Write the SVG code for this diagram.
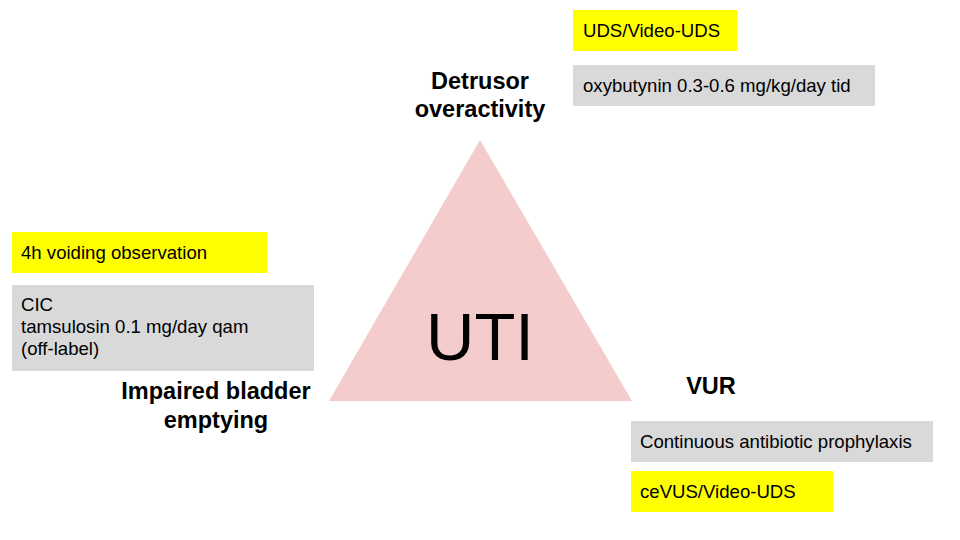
<svg xmlns="http://www.w3.org/2000/svg" width="960" height="540" viewBox="0 0 960 540">
<style>
.y{fill:#ffff00}
.g{fill:#d9d9d9}
.t{font-family:"Liberation Sans",Arial,sans-serif;font-size:18.6px;fill:#000}
.h{font-family:"Liberation Sans",Arial,sans-serif;font-size:23.5px;font-weight:bold;fill:#000;text-anchor:middle}
</style>
<rect width="960" height="540" fill="#fff"/>
<g id="triangle">
<polygon points="480,140 329,401 632,401" fill="#f4cccc"/>
<text x="480" y="360" font-family="Liberation Sans,Arial,sans-serif" font-size="67" text-anchor="middle">UTI</text>
</g>
<g id="detrusor">
<text class="h" x="480" y="89">Detrusor</text>
<text class="h" x="480" y="117">overactivity</text>
</g>
<g id="uds">
<rect class="y" x="573" y="10" width="164" height="41"/>
<text class="t" x="583" y="37">UDS/Video-UDS</text>
</g>
<g id="oxybutynin">
<rect class="g" x="573" y="65" width="302" height="41"/>
<text class="t" x="583" y="92">oxybutynin 0.3-0.6 mg/kg/day tid</text>
</g>
<g id="voiding">
<rect class="y" x="12" y="232" width="255" height="41"/>
<text class="t" x="21" y="259">4h voiding observation</text>
</g>
<g id="cic">
<rect class="g" x="12" y="285" width="302" height="86"/>
<text class="t" x="21" y="311">CIC</text>
<text class="t" x="21" y="333">tamsulosin 0.1 mg/day qam</text>
<text class="t" x="21" y="355">(off-label)</text>
</g>
<g id="impaired">
<text class="h" x="216" y="399">Impaired bladder</text>
<text class="h" x="216" y="428">emptying</text>
</g>
<g id="vur">
<text class="h" x="711" y="394">VUR</text>
</g>
<g id="prophylaxis">
<rect class="g" x="631" y="421" width="302" height="41"/>
<text class="t" x="640" y="448">Continuous antibiotic prophylaxis</text>
</g>
<g id="cevus">
<rect class="y" x="631" y="471" width="202" height="41"/>
<text class="t" x="640" y="498">ceVUS/Video-UDS</text>
</g>
<g id="connectors"></g>
</svg>
